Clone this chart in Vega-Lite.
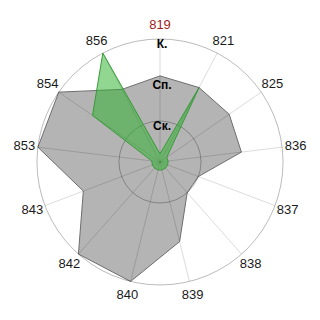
{
  "$schema": "https://vega.github.io/schema/vega-lite/v6.json",
  "width": 320,
  "height": 320,
  "padding": 0,
  "autosize": "none",
  "background": "white",
  "config": {"view": {"stroke": null}, "font": "Liberation Sans"},
  "datasets": {
    "levels": [
      {"ring": 1, "label": "Ск."},
      {"ring": 2, "label": "Сп."},
      {"ring": 3, "label": "К."}
    ],
    "scores": [
      {"series": "A", "category": "819", "value": 2.1},
      {"series": "A", "category": "821", "value": 2.05},
      {"series": "A", "category": "825", "value": 2.05},
      {"series": "A", "category": "836", "value": 2},
      {"series": "A", "category": "837", "value": 1},
      {"series": "A", "category": "838", "value": 1},
      {"series": "A", "category": "839", "value": 2},
      {"series": "A", "category": "840", "value": 3},
      {"series": "A", "category": "842", "value": 3},
      {"series": "A", "category": "843", "value": 2},
      {"series": "A", "category": "853", "value": 3},
      {"series": "A", "category": "854", "value": 3},
      {"series": "A", "category": "856", "value": 2},
      {"series": "B", "category": "819", "value": 0.2},
      {"series": "B", "category": "821", "value": 2.05},
      {"series": "B", "category": "825", "value": 0.2},
      {"series": "B", "category": "836", "value": 0.2},
      {"series": "B", "category": "837", "value": 0.2},
      {"series": "B", "category": "838", "value": 0.2},
      {"series": "B", "category": "839", "value": 0.2},
      {"series": "B", "category": "840", "value": 0.2},
      {"series": "B", "category": "842", "value": 0.2},
      {"series": "B", "category": "843", "value": 0.2},
      {"series": "B", "category": "853", "value": 0.2},
      {"series": "B", "category": "854", "value": 2},
      {"series": "B", "category": "856", "value": 3}
    ]
  },
  "layer": [
    {
      "data": {"name": "scores"},
      "transform": [
        {"window": [{"op": "row_number", "as": "idx"}], "groupby": ["series"]},
        {"calculate": "(datum.idx - 1) * 2 * PI / 13", "as": "a"},
        {"calculate": "datum.value * sin(datum.a)", "as": "px"},
        {"calculate": "datum.value * cos(datum.a)", "as": "py"},
        {"filter": "datum.series === 'A'"}
      ],
      "mark": {"type": "line", "interpolate": "linear-closed", "fill": "#b4b4b4", "stroke": "#6e6e6e", "strokeWidth": 1},
      "encoding": {
        "x": {"field": "px", "type": "quantitative", "scale": {"domain": [-3.9024, 3.9024], "nice": false, "zero": false}, "axis": null},
        "y": {"field": "py", "type": "quantitative", "scale": {"domain": [-3.8537, 3.9512], "nice": false, "zero": false}, "axis": null},
        "order": {"field": "idx", "type": "quantitative"}
      }
    },
    {
      "data": {"name": "scores"},
      "transform": [
        {"filter": "datum.series === 'A'"},
        {"window": [{"op": "row_number", "as": "idx"}]},
        {"calculate": "(datum.idx - 1) * 2 * PI / 13", "as": "a"},
        {"calculate": "3 * sin(datum.a)", "as": "sx"},
        {"calculate": "3 * cos(datum.a)", "as": "sy"}
      ],
      "mark": {"type": "rule", "color": "#000000", "opacity": 0.14, "strokeWidth": 1},
      "encoding": {
        "x": {"field": "sx", "type": "quantitative"},
        "y": {"field": "sy", "type": "quantitative"},
        "x2": {"datum": 0},
        "y2": {"datum": 0}
      }
    },
    {
      "data": {"name": "levels"},
      "mark": {"type": "arc", "filled": false, "stroke": "#000000", "strokeOpacity": 0.14, "strokeWidth": 1},
      "encoding": {
        "x": {"datum": 0, "type": "quantitative"},
        "y": {"datum": 0, "type": "quantitative"},
        "radius": {"field": "ring", "type": "quantitative", "scale": {"domain": [0, 3], "range": [0, 123], "zero": true}}
      }
    },
    {
      "data": {"name": "scores"},
      "transform": [
        {"window": [{"op": "row_number", "as": "idx"}], "groupby": ["series"]},
        {"calculate": "(datum.idx - 1) * 2 * PI / 13", "as": "a"},
        {"calculate": "datum.value * sin(datum.a)", "as": "px"},
        {"calculate": "datum.value * cos(datum.a)", "as": "py"},
        {"filter": "datum.series === 'B'"}
      ],
      "mark": {"type": "line", "interpolate": "linear-closed", "fill": "#2cb22c", "fillOpacity": 0.52, "stroke": "#3a9a3a", "strokeWidth": 1},
      "encoding": {
        "x": {"field": "px", "type": "quantitative"},
        "y": {"field": "py", "type": "quantitative"},
        "order": {"field": "idx", "type": "quantitative"}
      }
    },
    {
      "data": {"name": "levels"},
      "mark": {"type": "text", "baseline": "top", "align": "center", "fontWeight": "bold", "fontSize": 12, "dx": 2, "color": "#000000"},
      "encoding": {
        "x": {"datum": 0, "type": "quantitative"},
        "y": {"field": "ring", "type": "quantitative"},
        "text": {"field": "label"}
      }
    },
    {
      "data": {"name": "scores"},
      "transform": [
        {"filter": "datum.series === 'A'"},
        {"window": [{"op": "row_number", "as": "idx"}]},
        {"calculate": "(datum.idx - 1) * 2 * PI / 13", "as": "a"},
        {"calculate": "3.33 * sin(datum.a)", "as": "lx"},
        {"calculate": "3.33 * cos(datum.a)", "as": "ly"}
      ],
      "mark": {"type": "text", "align": "center", "baseline": "middle", "fontSize": 13},
      "encoding": {
        "x": {"field": "lx", "type": "quantitative"},
        "y": {"field": "ly", "type": "quantitative"},
        "text": {"field": "category"},
        "color": {"condition": {"test": "datum.category === '819'", "value": "#a01c1c"}, "value": "#1a1a1a"}
      }
    }
  ]
}
